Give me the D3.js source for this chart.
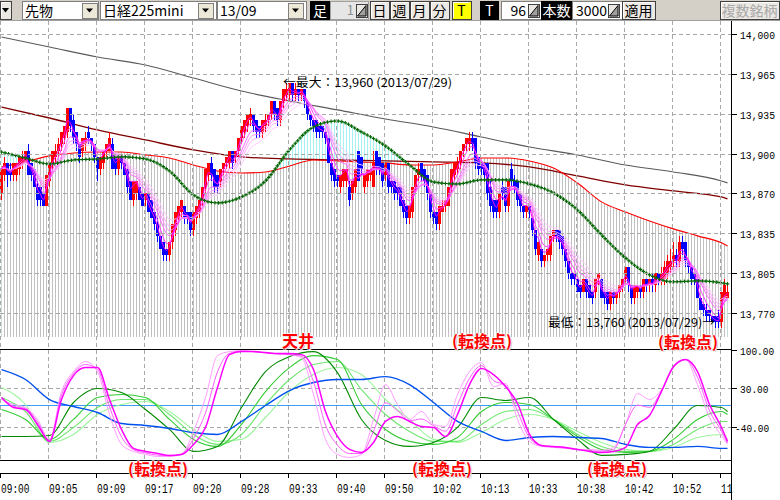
<!DOCTYPE html>
<html><head><meta charset="utf-8">
<script src="https://cdn.jsdelivr.net/npm/d3@7/dist/d3.min.js"></script>
<style>
html,body{margin:0;padding:0;background:#fff;overflow:hidden}
svg{display:block}
</style></head><body>
<svg id="c" width="780" height="500"></svg>
<script>
// ---------------- DATA ----------------
const opens = [
13870,13885,13895,13890,13885,13885,13890,13895,13895,13905,
13895,13890,13875,13875,13870,13860,13880,13895,13900,13905,
13910,13915,13920,13940,13930,13920,13910,13905,13910,13920,
13915,13910,13900,13890,13895,13905,13905,13910,13900,13890,
13900,13895,13890,13880,13865,13870,13875,13870,13865,13870,
13865,13855,13845,13835,13830,13825,13820,13830,13840,13850,
13855,13860,13855,13855,13840,13850,13855,13865,13875,13885,
13895,13890,13885,13880,13890,13895,13895,13905,13900,13905,
13915,13920,
13925,13930,13935,13930,13925,13920,13925,13930,13935,13945,
13940,13930,13945,13950,13950,13960,13950,13955,13950,13955,
13945,13935,13930,13930,13925,13925,13920,13915,13895,13890,
13885,13875,13880,13880,13875,13870,13875,13905,13900,13875,
13880,13885,13875,13905,13900,13895,13885,13895,13880,13880,
13875,13875,13865,13860,13850,13855,13875,13885,13895,13890,
13885,13870,13855,13855,13845,13855,13860,13860,13875,13885,
13890,13895,13905,13910,13910,13915,13915,13900,13895,13895,
13895,13875,13865,13865,13855,13875,13875,13860,13890,13880,
13880,13870,13860,13855,13860,13850,13840,13820,13825,13815,
13820,13820,13835,13840,13840,13835,13825,13815,13805,13805,
13800,13795,13790,13800,13795,13790,13790,13800,13800,13790,
13790,13780,13790,13785,13790,13795,13800,13810,13795,13785,
13790,13795,13790,13800,13795,13800,13795,13805,13800,13800,
13805,13810,13815,13820,13815,13830,13830,13815,13810,13805,
13800,13785,13780,13775,13775,13770,13770,13770,13765,13785,13785];
const closes = [
13890,13895,13885,13885,13895,13895,13900,13900,13905,13885,
13885,13875,13865,13865,13860,13885,13895,13905,13905,13910,
13920,13925,13940,13925,13915,13910,13900,13915,13915,13915,
13910,13900,13890,13900,13905,13910,13915,13890,13890,13900,
13895,13885,13875,13865,13880,13880,13865,13860,13870,13855,
13850,13845,13835,13825,13820,13820,13830,13845,13855,13860,
13865,13850,13850,13840,13855,13860,13865,13875,13890,13895,
13885,13875,13875,13890,13895,13900,13905,13895,13905,13915,
13925,13930,
13935,13935,13925,13920,13920,13930,13930,13935,13945,13935,
13930,13945,13955,13955,13960,13950,13955,13950,13955,13945,
13935,13930,13925,13920,13920,13920,13915,13895,13885,13880,
13880,13885,13890,13890,13865,13880,13890,13880,13890,13885,
13890,13890,13895,13890,13890,13880,13895,13875,13875,13870,
13870,13860,13855,13850,13860,13875,13885,13890,13885,13880,
13870,13855,13850,13845,13860,13860,13865,13875,13890,13895,
13895,13905,13910,13915,13915,13910,13895,13890,13890,13885,
13870,13860,13855,13855,13870,13870,13860,13880,13880,13875,
13865,13860,13855,13860,13855,13840,13825,13830,13815,13820,
13825,13835,13840,13835,13830,13825,13815,13805,13800,13800,
13790,13790,13800,13790,13785,13785,13800,13805,13785,13785,
13780,13790,13785,13790,13795,13800,13810,13795,13785,13795,
13795,13790,13800,13795,13800,13795,13805,13800,13805,13810,
13815,13815,13820,13815,13830,13825,13815,13810,13800,13800,
13785,13775,13775,13770,13770,13765,13765,13765,13790,13795,13790];
const highs = [
13890,13900,13895,13895,13895,13895,13900,13905,13905,13910,
13895,13890,13880,13875,13870,13885,13895,13905,13910,13915,
13920,13925,13940,13940,13935,13920,13910,13915,13920,13925,
13915,13910,13900,13900,13905,13910,13920,13915,13900,13900,
13900,13895,13890,13880,13880,13880,13875,13870,13870,13870,
13865,13855,13850,13835,13830,13825,13830,13845,13855,13860,
13865,13860,13855,13855,13855,13860,13865,13875,13890,13895,
13900,13890,13885,13890,13895,13900,13905,13905,13905,13915,
13925,13930,
13935,13940,13935,13930,13925,13930,13935,13935,13945,13945,
13940,13945,13955,13960,13960,13960,13960,13955,13955,13955,
13945,13935,13930,13930,13925,13925,13920,13915,13895,13890,
13885,13885,13890,13890,13880,13880,13890,13905,13900,13885,
13890,13890,13905,13905,13900,13895,13895,13895,13880,13880,
13875,13875,13865,13860,13860,13875,13885,13895,13895,13890,
13885,13870,13855,13855,13860,13865,13865,13875,13890,13895,
13900,13905,13910,13915,13920,13920,13915,13900,13895,13895,
13895,13880,13865,13865,13870,13880,13875,13880,13895,13885,
13880,13870,13860,13860,13860,13850,13840,13830,13825,13820,
13825,13835,13840,13840,13840,13835,13825,13815,13805,13805,
13800,13795,13800,13800,13795,13790,13800,13805,13800,13790,
13790,13790,13790,13790,13795,13800,13810,13810,13795,13795,
13795,13795,13800,13800,13800,13805,13805,13805,13810,13815,
13820,13825,13830,13825,13835,13835,13830,13815,13810,13805,
13800,13785,13780,13780,13775,13770,13770,13775,13790,13800,13795];
const lows = [
13865,13880,13875,13880,13880,13880,13885,13890,13895,13885,
13880,13875,13860,13860,13860,13860,13875,13890,13895,13900,
13905,13910,13915,13920,13910,13905,13895,13900,13905,13910,
13905,13895,13880,13885,13890,13900,13905,13890,13885,13885,
13890,13885,13870,13865,13860,13865,13865,13860,13860,13855,
13850,13840,13830,13825,13815,13815,13815,13825,13835,13845,
13850,13845,13845,13835,13835,13845,13850,13860,13870,13880,
13880,13870,13870,13875,13885,13890,13890,13890,13895,13900,
13910,13915,
13920,13925,13920,13915,13915,13915,13920,13925,13930,13930,
13925,13925,13940,13945,13945,13945,13945,13945,13945,13940,
13930,13925,13920,13915,13915,13915,13910,13895,13880,13875,
13875,13870,13875,13875,13860,13865,13870,13880,13885,13870,
13875,13880,13875,13885,13885,13875,13880,13870,13870,13865,
13865,13860,13850,13845,13845,13850,13870,13880,13880,13875,
13865,13850,13845,13840,13840,13855,13855,13860,13870,13880,
13885,13890,13900,13905,13905,13905,13890,13885,13885,13880,
13865,13855,13850,13850,13850,13865,13855,13855,13875,13870,
13860,13855,13850,13850,13850,13835,13820,13815,13810,13810,
13815,13815,13830,13830,13825,13820,13810,13800,13795,13795,
13790,13785,13790,13785,13785,13780,13785,13795,13785,13780,
13775,13775,13780,13780,13785,13790,13795,13790,13780,13780,
13785,13785,13785,13790,13790,13790,13790,13795,13795,13795,
13800,13805,13810,13810,13810,13820,13810,13805,13795,13795,
13785,13775,13770,13765,13765,13765,13760,13760,13760,13785,13785];

// moving averages (bar index -> price)
const maLongBars = [0,16,32,48,64,80,96,112,128,144,160,176,192,208,224,240,242];
const maGray   = [13997.5,13989.4,13981.2,13974.7,13964.1,13953.5,13945.4,13938.1,13930.7,13924.2,13916,13907.9,13901.4,13893.2,13887.5,13880.2,13878.6];
const maMaroon = [13940.5,13931.5,13921.8,13913.6,13905.5,13899.8,13898.1,13897.3,13896.5,13895.7,13894.9,13891.6,13884.3,13876.9,13872,13867.1,13865.5];
const bars8 = [0,8,16,24,32,40,48,56,64,72,80,88,96,104,112,120,128,136,144,152,160,168,176,184,192,200,208,216,224,232,240,242];
const maRed   = [13891.6,13895.7,13900.6,13903,13903.8,13903.8,13901.4,13898.9,13893.2,13888.3,13886.7,13887.5,13892.4,13897.3,13896.5,13895.7,13894.9,13893.2,13893.2,13895.7,13898.9,13898.9,13896.5,13890.8,13878.5,13863.1,13854.9,13847.6,13841.1,13835.4,13829.7,13827.2];
const maGreen = [13903.8,13898.9,13894,13897.3,13898.1,13899.8,13898.1,13888.3,13868.8,13862.3,13867.2,13880.2,13905.5,13924.2,13929.1,13920.1,13908.7,13893.2,13879.4,13877.7,13881,13881,13877.7,13870.4,13856.5,13836.2,13817.4,13803.6,13797.9,13798.7,13797.1,13796.2];
const ribbonPeriods = [3,5,8,10,12,15];

// oscillator lines
const oscBlue = [63.9,46,10,-2.5,-13.3,-33.2,-36.6,-42,-49.4,-52.8,-29.4,-0.7,26.2,40.6,46,46,51.3,37,4.7,-29.4,-47.4,-63.6,-58.2,-56.4,-58.2,-60,-70.7,-76.1,-76.1,-74.3,-77.9,-77.9];
const oscG1 = [-56.4,-56.4,-54.6,4.7,29.8,22.6,-7.9,-43.8,-83.3,-74.3,-4.3,60.3,87.2,96.2,58.5,-25.8,-63.6,-74.3,-67.2,-40.2,13.6,8.3,13.6,-25.8,-61.7,-90.5,-88.7,-83.3,-43.8,-0.7,-4.3,-11.5];
const oscG2 = [-7.9,-25.8,-61.7,-25.8,13.6,19,13.6,-25.8,-61.7,-74.3,-34.8,24.4,67.5,89,81.9,1.1,-43.8,-65.3,-70.7,-58.2,-11.5,4.7,1.1,-25.8,-56.4,-79.7,-85.1,-83.3,-61.7,-25.8,-11.5,-16.9];
const oscG3 = [13.6,-11.5,-65.3,-40.2,-4.3,10.1,10.1,-16.9,-52.8,-70.7,-52.8,1.1,46,72.9,78.3,28,-16.9,-47.4,-65.3,-65.3,-34.8,-11.5,-7.9,-25.8,-52.8,-74.3,-83.3,-83.3,-70.7,-43.8,-29.4,-29.4];
const oscG4 = [31.6,1.1,-67.2,-52.8,-16.9,1.1,6.5,-11.5,-43.8,-65.3,-61.7,-22.3,24.4,54.9,67.5,54.9,10.1,-25.8,-61.7,-67.2,-49.2,-25.8,-16.9,-25.8,-47.4,-67.2,-79.7,-83.3,-76.1,-58.2,-52.8,-61.7];
const bars4 = d3.range(0,241,4).concat([242]);
const oscM1 = [13.6,-4.3,-7.9,-34.8,-65.3,10.1,53.1,67.5,67.5,10.1,-43.8,-77.9,-83.3,-86.9,-90.5,-88.7,-70.7,-40.2,31.6,90.8,96.2,96.2,94.4,92.6,92.6,90.8,63.9,-11.5,-56.4,-79.7,-85.1,-67.2,-29.4,-20.5,-29.4,-38.4,-40.2,-56.4,-16.9,37,65.7,54.9,33.4,2.9,-52.8,-72.5,-74.3,-76.1,-79.7,-83.3,-85.1,-83.3,-76.1,-34.8,-18.7,24.4,69.3,81.9,60.3,1.1,-40.2,-65.3];
const oscM2 = [13,-2,-6,-30,-64,18,57,73,64,-3,-57,-80,-86,-90,-91,-88,-60,-14,60,93,97,96,94,92,91,88,42,-36,-72,-87,-87,-47,4,-10,-28,-25,-37,-47,1,48,71,44,36,-11,-59,-73,-75,-77,-80,-82,-83,-80,-35,0,-4,26,68,82,50,-10,-47,-68];
const oscM3 = [10.1,1.1,-4.3,-25.8,-61.7,24.4,60.3,78.3,60.3,-16.9,-70.7,-83.3,-88.7,-92.3,-92.3,-88.7,-47.4,13.6,89,96.2,98,96.2,94.4,92.6,90.8,85.4,19,-61.7,-88.7,-94.1,-88.7,-25.8,37,1.1,-25.8,-11.5,-34.8,-38.4,19,60.3,76.5,33.4,38.8,-25.8,-65.3,-74.3,-76.1,-77.9,-79.7,-79.7,-81.5,-76.1,-34.8,20.8,10.1,28,67.5,81.9,37,-22.3,-54.6,-70.7];

// axes
const priceTicks = [14000,13967.5,13935,13902.5,13870,13837.5,13805,13772.5];
const priceTickLabels = ["14,000","13,965","13,935","13,900","13,870","13,835","13,805","13,770"];
const oscTicks = [100,30,-40];
const oscTickLabels = ["100.00","30.00","-40.00"];
const timeTickBars = [0,16,32,48,64,80,96,112,128,144,160,176,192,208,224,240];
const timeLabels = ["09:00","09:05","09:09","09:17","09:20","09:28","09:33","09:40","09:50","10:02","10:13","10:33","10:38","10:42","10:52","11"];
const highNote = "←最大：13,960 (2013/07/29)";
const lowNote = "最低：13,760 (2013/07/29)→";

// ---------------- CHART ----------------
const svg = d3.select('#c');
const PR = 731;          // right edge of plot
const TOP = 21;
const P_BOT = 349.5, O_BOT = 460.7;
const x = d3.scaleLinear().domain([0,243]).range([0,729]);
const cx = i => x(i + 0.5);
const yP = d3.scaleLinear().domain([13772.5,14000]).range([313,34]);
const yO = d3.scaleLinear().domain([-100,100]).range([O_BOT,P_BOT]);
const MONO = "'Liberation Mono','DejaVu Sans Mono',monospace";
const JP = "'Noto Sans CJK JP','Noto Sans CJK SC',sans-serif";

const defs = svg.append('defs');
defs.append('clipPath').attr('id','cpP').append('rect').attr('x',0).attr('y',TOP).attr('width',PR).attr('height',P_BOT-TOP);
defs.append('clipPath').attr('id','cpO').append('rect').attr('x',0).attr('y',P_BOT).attr('width',PR).attr('height',O_BOT-P_BOT);
defs.append('clipPath').attr('id','cpH').append('rect').attr('x',0).attr('y',TOP).attr('width',PR).attr('height',337-TOP);
const pg = defs.append('pattern').attr('id','hatchG').attr('patternUnits','userSpaceOnUse').attr('width',3).attr('height',8);
pg.append('rect').attr('width',3).attr('height',8).attr('fill','#fff');
pg.append('rect').attr('x',1).attr('width',1).attr('height',8).attr('fill','#c0c0c0');
const pc = defs.append('pattern').attr('id','hatchC').attr('patternUnits','userSpaceOnUse').attr('width',3).attr('height',8);
pc.append('rect').attr('width',3).attr('height',8).attr('fill','#fff');
pc.append('rect').attr('x',1).attr('width',1).attr('height',8).attr('fill','#a6f2f2');

svg.append('rect').attr('width',780).attr('height',500).attr('fill','#fff');

// ---- price panel
const gP = svg.append('g').attr('clip-path','url(#cpP)');
const gH = gP.append('g').attr('clip-path','url(#cpH)');
const toPts = (bars, vals) => bars.map((b,k)=>({i:b, v:vals[k]}));
const redPts = toPts(bars8, maRed), greenPts = toPts(bars8, maGreen);
gH.append('path').datum(greenPts)
  .attr('d', d3.area().x(d=>cx(d.i)).y0(340).y1(d=>yP(d.v)).curve(d3.curveMonotoneX))
  .attr('fill','url(#hatchC)');
gH.append('path').datum(redPts)
  .attr('d', d3.area().x(d=>cx(d.i)).y0(340).y1(d=>yP(d.v)).curve(d3.curveMonotoneX))
  .attr('fill','url(#hatchG)');

// grid
const grid = svg.append('g').attr('stroke','#a8a8a8').attr('stroke-dasharray','4,3').attr('stroke-width',1).attr('shape-rendering','crispEdges');
priceTicks.forEach(v=>grid.append('line').attr('x1',0).attr('x2',PR).attr('y1',Math.round(yP(v))+0.5).attr('y2',Math.round(yP(v))+0.5));
oscTicks.slice(1).forEach(v=>grid.append('line').attr('x1',0).attr('x2',PR).attr('y1',Math.round(yO(v))+0.5).attr('y2',Math.round(yO(v))+0.5));
timeTickBars.forEach(b=>grid.append('line').attr('x1',x(b)+0.5).attr('x2',x(b)+0.5).attr('y1',TOP).attr('y2',O_BOT));

// MA lines
const lineP = d3.line().x(d=>cx(d.i)).y(d=>yP(d.v)).curve(d3.curveMonotoneX);
gP.append('path').datum(toPts(maLongBars, maGray)).attr('d',lineP).attr('fill','none').attr('stroke','#5a5a5a').attr('stroke-width',1.1);
gP.append('path').datum(toPts(maLongBars, maMaroon)).attr('d',lineP).attr('fill','none').attr('stroke','#800000').attr('stroke-width',1.3);
gP.append('path').datum(redPts).attr('d',lineP).attr('fill','none').attr('stroke','#ff0000').attr('stroke-width',1.1);

// candles
const cg = gP.append('g').attr('shape-rendering','crispEdges');
opens.forEach((o,i)=>{
  const c = closes[i], hi = Math.max(highs[i],o,c), lo = Math.min(lows[i],o,c);
  const col = c >= o ? '#ff0000' : '#0000ff';
  cg.append('rect').attr('x',x(i)+1).attr('width',1).attr('y',yP(hi)).attr('height',Math.max(1,yP(lo)-yP(hi))).attr('fill',col);
  const t = yP(Math.max(o,c)), b = yP(Math.min(o,c));
  cg.append('rect').attr('x',x(i)).attr('width',3).attr('y',t).attr('height',Math.max(1.5,b-t)).attr('fill',col);
});

// ribbon (exponential averages of the closes)
function ema(arr,n){const k=2/(n+1);let e=arr[0];return arr.map(v=>(e=e+(v-e)*k));}
const ribbonColors = ['#ff00ff','#ff3cff','#ff66ff','#ff8cff','#ffaeff','#ffcaff'];
const lineR = d3.line().x((d,i)=>cx(i)).y(d=>yP(d)).curve(d3.curveMonotoneX);
ribbonPeriods.slice().reverse().forEach((n,k)=>{
  const col = ribbonColors[ribbonPeriods.length-1-k];
  gP.append('path').datum(ema(closes,n)).attr('d',lineR).attr('fill','none').attr('stroke',col).attr('stroke-width',1);
});

// green dotted line made of + markers
const gPath = gP.append('path').datum(greenPts).attr('d',lineP).attr('fill','none').attr('stroke','#2e8b2e').attr('stroke-width',0.8);
const node = gPath.node(), L = node.getTotalLength();
let crosses = '';
for (let s=0; s<=L; s+=3.6){ const p=node.getPointAtLength(s); crosses += `M${(p.x-1.8).toFixed(1)},${p.y.toFixed(1)}h3.6M${p.x.toFixed(1)},${(p.y-1.8).toFixed(1)}v3.6`; }
gP.append('path').attr('d',crosses).attr('stroke','#006400').attr('stroke-width',1.1).attr('fill','none');

// notes
svg.append('text').attr('x',283).attr('y',86.5).text(highNote)
  .attr('font-family',JP).attr('font-size',12).attr('fill','#000')
  .attr('textLength',169).attr('lengthAdjust','spacingAndGlyphs');
svg.append('text').attr('x',548).attr('y',326.5).text(lowNote)
  .attr('font-family',JP).attr('font-size',12).attr('fill','#000')
  .attr('textLength',167).attr('lengthAdjust','spacingAndGlyphs');

// ---- oscillator panel
const gO = svg.append('g').attr('clip-path','url(#cpO)');
gO.append('line').attr('x1',0).attr('x2',PR).attr('y1',Math.round(yO(0))+0.5).attr('y2',Math.round(yO(0))+0.5).attr('stroke','#3d9cf5').attr('stroke-width',1);
const lineO = d3.line().x(d=>cx(d.i)).y(d=>yO(d.v)).curve(d3.curveMonotoneX);
[[oscG4,'#9cf59c'],[oscG3,'#6ee66e'],[oscG2,'#33cc33'],[oscG1,'#008a00']].forEach(([s,c])=>
  gO.append('path').datum(toPts(bars8,s)).attr('d',lineO).attr('fill','none').attr('stroke',c).attr('stroke-width',1.1));
gO.append('path').datum(toPts(bars8,oscBlue)).attr('d',lineO).attr('fill','none').attr('stroke','#0050f0').attr('stroke-width',1.4);
[[oscM3,'#ff9cff',1],[oscM2,'#ff5cff',1],[oscM1,'#ff00ff',1.5]].forEach(([s,c,w])=>
  gO.append('path').datum(toPts(bars4,s)).attr('d',lineO).attr('fill','none').attr('stroke',c).attr('stroke-width',w));

// frame lines
const fr = svg.append('g').attr('stroke','#000').attr('shape-rendering','crispEdges');
fr.append('line').attr('x1',0).attr('x2',PR).attr('y1',349.5).attr('y2',349.5);
fr.append('line').attr('x1',0).attr('x2',PR).attr('y1',460.5).attr('y2',460.5);
fr.append('line').attr('x1',0).attr('x2',PR).attr('y1',473.5).attr('y2',473.5);
fr.append('line').attr('x1',PR+0.5).attr('x2',PR+0.5).attr('y1',TOP).attr('y2',500);

// right axis
const ra = svg.append('g');
priceTicks.forEach((v,k)=>{
  const yy = Math.round(yP(v))+0.5;
  ra.append('line').attr('x1',PR).attr('x2',PR+6).attr('y1',yy).attr('y2',yy).attr('stroke','#000').attr('shape-rendering','crispEdges');
  ra.append('text').attr('x',740).attr('y',yy+4.5).text(priceTickLabels[k]).attr('font-family',MONO).attr('font-size',11.5)
    .attr('textLength',35).attr('lengthAdjust','spacingAndGlyphs').attr('fill','#000');
});
oscTicks.forEach((v,k)=>{
  const yy = Math.round(yO(v))+0.5;
  ra.append('line').attr('x1',PR).attr('x2',PR+6).attr('y1',yy).attr('y2',yy).attr('stroke','#000').attr('shape-rendering','crispEdges');
  const lab = oscTickLabels[k];
  const xx = lab.startsWith('-') ? 735 : 740;
  ra.append('text').attr('x',xx).attr('y',yy+4.5).text(lab).attr('font-family',MONO).attr('font-size',11.5)
    .attr('textLength',lab.length*5.7).attr('lengthAdjust','spacingAndGlyphs').attr('fill','#000');
});

// time axis
const ta = svg.append('g');
timeTickBars.forEach((b,k)=>{
  const xx = x(b)+0.5;
  ta.append('line').attr('x1',xx).attr('x2',xx).attr('y1',473).attr('y2',478).attr('stroke','#000').attr('shape-rendering','crispEdges');
  const lab = timeLabels[k];
  ta.append('text').attr('x',x(b)+1).attr('y',493).text(lab).attr('font-family',MONO).attr('font-size',12)
    .attr('textLength',lab.length*5.7).attr('lengthAdjust','spacingAndGlyphs').attr('fill','#000');
});

// red markers
function redLabel(txt, xx, yy, w){
  const g = svg.append('g').attr('font-family',JP).attr('font-size',15.5).attr('font-weight','bold');
  g.append('text').attr('x',xx+1.2).attr('y',yy+1.2).text(txt).attr('fill','#c8c8c8')
    .attr('textLength',w).attr('lengthAdjust','spacingAndGlyphs');
  g.append('text').attr('x',xx).attr('y',yy).text(txt).attr('fill','#ff0000')
    .attr('stroke','#fff').attr('stroke-width',1.2).attr('paint-order','stroke')
    .attr('textLength',w).attr('lengthAdjust','spacingAndGlyphs');
}
redLabel('天井',282,347,32);
redLabel('(転換点)',452,347,60);
redLabel('(転換点)',658,347.5,60);
redLabel('(転換点)',128,475,60);
redLabel('(転換点)',412,475,60);
redLabel('(転換点)',587,475,60);

// ---- toolbar
const tb = svg.append('g');
tb.append('rect').attr('x',0).attr('y',0).attr('width',780).attr('height',TOP).attr('fill','#d4d0c8');
tb.append('line').attr('x1',0).attr('x2',780).attr('y1',TOP-0.5).attr('y2',TOP-0.5).attr('stroke','#a0a0a0');
function button(xx,w,label,opts={}){
  const g=tb.append('g');
  g.append('rect').attr('x',xx).attr('y',1).attr('width',w).attr('height',18).attr('fill',opts.fill||'#ece9e4').attr('stroke','#404040').attr('stroke-width',1).attr('shape-rendering','crispEdges');
  g.append('path').attr('d',`M${xx+1.5},${17.5}V2.5H${xx+w-1.5}`).attr('stroke','#fff').attr('fill','none');
  if(label) g.append('text').attr('x',xx+w/2).attr('y',15.5).attr('text-anchor','middle').text(label)
    .attr('font-family',JP).attr('font-size',14).attr('fill',opts.color||'#000');
  return g;
}
function arrowBtn(xx,w,fill){
  const g=tb.append('g');
  g.append('rect').attr('x',xx).attr('y',3).attr('width',w).attr('height',15).attr('fill',fill).attr('stroke','#808080').attr('shape-rendering','crispEdges');
  const m=xx+w/2;
  g.append('path').attr('d',`M${m-3.5},8.5h7l-3.5,4z`).attr('fill','#000');
}
function field(xx,w,label,align){
  tb.append('rect').attr('x',xx).attr('y',1).attr('width',w).attr('height',18).attr('fill','#fff').attr('stroke','#808080').attr('shape-rendering','crispEdges');
  const t=tb.append('text').attr('y',15.5).text(label).attr('font-family',JP).attr('font-size',14).attr('fill','#000');
  if(align==='end') t.attr('x',xx+w-15).attr('text-anchor','end'); else t.attr('x',xx+3);
}
function spin(xx){
  tb.append('rect').attr('x',xx).attr('y',4).attr('width',11).attr('height',13).attr('fill','#ece9e4').attr('stroke','#404040').attr('shape-rendering','crispEdges');
  tb.append('path').attr('d',`M${xx+1.5},${16}L${xx+10},${5.5}V16z`).attr('fill','#a0a0a0').attr('stroke','#000').attr('stroke-width',1);
}
function blackBox(xx,w,label){
  tb.append('rect').attr('x',xx).attr('y',1).attr('width',w).attr('height',19).attr('fill','#000');
  tb.append('text').attr('x',xx+w/2).attr('y',15.5).attr('text-anchor','middle').text(label).attr('font-family',JP).attr('font-size',14).attr('fill','#fff');
}
button(0,11,'');
tb.append('path').attr('d','M2,8h7l-3.5,4.5z').attr('fill','#000');
field(22,76,'先物'); arrowBtn(82,15,'#ece9d8');
field(100,116,'日経225mini'); arrowBtn(198,15,'#ece9d8');
field(217,89,'13/09'); arrowBtn(288,15,'#ece9d8');
blackBox(310,20,'足');
tb.append('rect').attr('x',330).attr('y',1).attr('width',38).attr('height',18).attr('fill','#e6e6e6').attr('stroke','#a0a0a0').attr('shape-rendering','crispEdges');
tb.append('text').attr('x',354).attr('y',15).attr('text-anchor','end').text('1').attr('font-family',JP).attr('font-size',13).attr('fill','#909090');
spin(356);
button(370,19,'日'); button(390,19,'週'); button(410,19,'月'); button(430,19,'分');
button(452,19,'T',{fill:'#ffff00'});
blackBox(480,19,'T');
field(501,40,'96','end'); spin(528);
blackBox(541,31,'本数');
field(572,50,'3000','end'); spin(608);
button(622,33,'適用');
button(720,59,'複数銘柄',{color:'#a8a8a8'});
</script>
</body></html>
